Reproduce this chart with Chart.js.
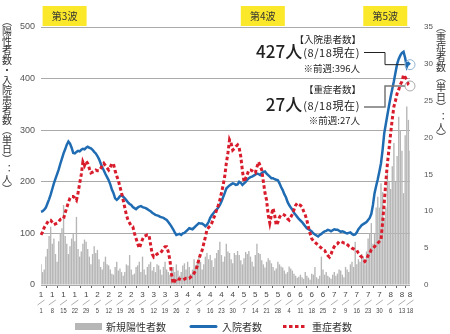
<!DOCTYPE html>
<html>
<head>
<meta charset="utf-8">
<script src="https://cdn.jsdelivr.net/npm/chart.js@4.4.0/dist/chart.umd.min.js"></script>
<style>
  html, body { margin: 0; padding: 0; background: #fff; }
</style>
</head>
<body>
<canvas id="chart" width="450" height="334"></canvas>
<script>
// daily new positive cases, 2021/1/1 - 8/18
const newCases = [
    40, 25, 30, 55, 70, 95, 113,   80, 90, 60, 45, 85, 100, 110,
    155, 95, 80, 60, 75, 90, 100,  85, 132, 70, 55, 65, 80, 88,
    84, 70, 55, 40, 60, 75, 62,    68, 50, 35, 30, 45, 55, 40,
    38, 30, 22, 20, 35, 45, 28,    32, 25, 18, 25, 40, 38, 58,
    30, 20, 22, 35, 38, 45, 25,    55, 30, 20, 35, 40, 45, 28,
    35, 25, 40, 38, 30, 20, 35,    45, 30, 25, 20, 30, 35, 25,
    40, 28, 18, 25, 38, 42, 30,    45, 35, 22, 30, 50, 38, 45,
    55, 45, 30, 40, 55, 62, 50,    58, 48, 35, 52, 62, 68, 84,
    58, 45, 55, 80, 65, 62, 50,    42, 62, 58, 66, 58, 48, 40,
    52, 64, 60, 66, 55, 45, 36,    58, 80, 62, 60, 48, 40, 34,
    45, 52, 48, 42, 35, 28, 32,    45, 40, 36, 34, 28, 22, 25,
    36, 32, 28, 22, 18, 14, 16,    20, 15, 12, 25, 18, 14, 10,
    22, 20, 35, 15, 12, 18, 55,    30, 20, 25, 18, 15, 12, 20,
    25, 18, 22, 30, 28, 20, 15,    35, 30, 25, 40, 45, 35, 84,
    40, 50, 45, 60, 55, 40, 65,    90, 100, 120, 80, 100, 150, 171,
    150, 197, 180, 130, 150, 216, 200,  186, 230, 275, 200, 250, 326, 300,
    260, 178, 290, 346, 320, 260
];

// 入院者数 (left axis)
const inpatients = [
    142, 143, 146, 150, 158, 166, 175, 186, 197, 206,
    215, 224, 235, 245, 255, 263, 272, 278, 274, 266,
    256, 255, 258, 260, 259, 262, 264, 263, 266, 268,
    266, 265, 262, 258, 255, 250, 244, 236, 228, 222,
    215, 209, 203, 195, 185, 178, 168, 165, 168, 172,
    174, 171, 168, 164, 160, 157, 155, 151, 149, 147,
    150, 152, 153, 151, 150, 149, 147, 145, 143, 140,
    138, 136, 135, 134, 132, 131, 130, 128, 126, 122,
    118, 113, 108, 102, 97, 98, 99, 97, 100, 101,
    104, 107, 110, 109, 108, 111, 114, 117, 120, 119,
    119, 117, 114, 117, 122, 130, 135, 139, 143, 146,
    150, 155, 162, 170, 178, 187, 190, 193, 195, 197,
    196, 194, 195, 200, 198, 194, 197, 200, 204, 207,
    209, 210, 212, 214, 216, 215, 213, 217, 219, 220,
    216, 213, 210, 207, 207, 205, 204, 203, 197, 190,
    184, 176, 170, 161, 155, 150, 146, 140, 136, 132,
    128, 125, 122, 118, 114, 110, 108, 106, 104, 100,
    98, 96, 94, 97, 99, 102, 104, 105, 107, 106,
    104, 106, 108, 107, 107, 105, 103, 104, 103, 101,
    100, 101, 102, 99, 97, 98, 102, 108, 112, 116,
    118, 120, 122, 126, 130, 138, 155, 178, 192, 205,
    220, 236, 262, 294, 312, 330, 348, 365, 380, 395,
    412, 428, 438, 445, 450, 452, 440, 423, 430, 427
];

// 重症者数 (right axis)
const severe = [
    6.8, 7.2, 7.8, 8.1, 8.5, 8.8, 8.8, 8.5, 8.2, 8.3,
    8.4, 8.6, 8.9, 9.0, 9.0, 9.8, 10.5, 11.2, 11.8, 12.0,
    12.0, 11.8, 11.5, 12.5, 13.8, 15.0, 16.7, 16.2, 16.8, 16.5,
    15.8, 15.2, 15.3, 15.4, 15.6, 15.5, 15.5, 15.8, 16.2, 16.5,
    16.2, 15.9, 15.6, 16.0, 16.5, 16.4, 15.5, 14.8, 14.2, 13.3,
    12.5, 11.5, 10.5, 9.5, 8.8, 8.4, 8.0, 7.9, 7.0, 6.3,
    5.6, 5.0, 5.6, 6.2, 6.6, 6.7, 6.8, 6.8, 5.5, 4.2,
    3.8, 4.0, 4.2, 4.3, 4.3, 4.6, 5.0, 5.2, 5.2, 4.5,
    3.4, 1.5, 0.2, 0.5, 0.9, 0.8, 0.8, 0.7, 0.7, 0.8,
    0.9, 0.9, 0.9, 1.1, 1.3, 1.6, 2.0, 2.6, 3.5, 4.2,
    4.7, 5.6, 6.5, 7.5, 7.8, 8.0, 8.4, 9.0, 9.5, 10.2,
    10.8, 11.5, 12.5, 13.5, 14.7, 16.5, 17.9, 19.7, 19.2, 18.3,
    18.5, 18.8, 19.0, 18.6, 17.4, 15.5, 14.0, 14.5, 15.0, 15.6,
    15.6, 15.5, 15.3, 15.2, 16.0, 16.7, 16.2, 15.6, 14.0, 12.5,
    11.5, 9.5, 8.4, 9.5, 10.4, 9.5, 8.1, 8.5, 9.2, 9.5,
    9.6, 9.5, 9.3, 9.0, 8.8, 9.2, 9.6, 10.2, 10.8, 11.1,
    10.9, 10.8, 10.6, 10.0, 9.5, 8.8, 7.8, 7.0, 6.3, 6.0,
    5.8, 5.6, 5.4, 5.2, 5.0, 4.8, 4.7, 4.3, 4.0, 3.8,
    4.2, 4.8, 5.2, 5.5, 5.6, 5.9, 5.9, 5.8, 5.7, 5.7,
    5.5, 5.3, 5.2, 5.0, 4.9, 4.8, 4.7, 4.3, 4.0, 3.8,
    3.5, 3.2, 3.5, 4.0, 4.3, 4.8, 5.0, 5.2, 5.5, 5.7,
    5.9, 6.1, 8.5, 11.1, 14.0, 16.5, 18.5, 20.6, 22.5, 24.2,
    25.0, 26.0, 26.5, 27.2, 27.6, 28.5, 28.2, 27.8, 27.2, 27.0
];

const weekTicks = [
    "1/1", "1/8", "1/15", "1/22", "1/29", "2/5", "2/12", "2/19", "2/26",
    "3/5", "3/12", "3/19", "3/26", "4/2", "4/9", "4/16", "4/23", "4/30",
    "5/7", "5/14", "5/21", "5/28", "6/4", "6/11", "6/18", "6/25",
    "7/2", "7/9", "7/16", "7/23", "7/30", "8/6", "8/13", "8/18"
];

const waveLabels = ["第3波", "第4波", "第5波"];
const legendLabels = ["新規陽性者数", "入院者数", "重症者数"];

// one category per day
const days = [];
for (let d = new Date(2021, 0, 1); days.length < newCases.length; d.setDate(d.getDate() + 1)) {
    days.push((d.getMonth() + 1) + "/" + d.getDate());
}

const BLUE = "#1f6cb3";
const RED = "#d81c2c";
const GREY = "#b6b6b6";
const JP = "'Noto Sans CJK JP', sans-serif";
const NUM = "'Liberation Sans', Arial, sans-serif";

function verticalText(ctx, str, cx, cy, step) {
    for (const ch of str) {
        ctx.fillText(ch, cx, cy);
        cy += step;
    }
}

const overlay = {
    id: "overlay",
    afterDraw(chart) {
        const ctx = chart.ctx;
        const { x, y, y2 } = chart.scales;
        ctx.save();

        // slash + day under each month label (condensed like the print)
        ctx.strokeStyle = "#999";
        ctx.lineWidth = 0.8;
        ctx.fillStyle = "#444";
        ctx.font = "8px " + NUM;
        ctx.textAlign = "center";
        ctx.textBaseline = "middle";
        days.forEach((c, i) => {
            if (!weekTicks.includes(c)) return;
            const px = x.getPixelForValue(i);
            ctx.beginPath();
            ctx.moveTo(px - 3.5, 305);
            ctx.lineTo(px + 3.5, 300);
            ctx.stroke();
            ctx.save();
            ctx.translate(px, 310.5);
            ctx.scale(0.72, 1);
            ctx.fillText(c.split("/")[1], 0, 0);
            ctx.restore();
        });

        // wave labels
        ctx.font = "10px " + JP;
        [1, 124, 200].forEach((idx, k) => {
            const left = x.getPixelForValue(idx);
            ctx.fillStyle = "#fce82a";
            ctx.fillRect(left, 6, 44, 20);
            ctx.fillStyle = "#333";
            ctx.fillText(waveLabels[k], left + 22, 16.5);
        });

        // axis titles, written vertically
        ctx.fillStyle = "#333";
        ctx.font = "10px " + JP;
        verticalText(ctx, "︵陽性者数・入院患者数︵単日︶︓人︶", 7, 21, 9.9);
        verticalText(ctx, "︵重症者数︵単日︶︓人︶", 441, 27, 10);

        // legend
        ctx.textAlign = "left";
        ctx.fillStyle = GREY;
        ctx.fillRect(75, 323, 27, 7);
        ctx.fillStyle = "#333";
        ctx.fillText(legendLabels[0], 106, 327);
        ctx.strokeStyle = BLUE;
        ctx.lineWidth = 3;
        ctx.lineCap = "round";
        ctx.beginPath();
        ctx.moveTo(191, 326.5);
        ctx.lineTo(216, 326.5);
        ctx.stroke();
        ctx.fillText(legendLabels[1], 222, 327);
        ctx.strokeStyle = RED;
        ctx.lineCap = "butt";
        ctx.setLineDash([3.5, 2.5]);
        ctx.beginPath();
        ctx.moveTo(283, 326.5);
        ctx.lineTo(306, 326.5);
        ctx.stroke();
        ctx.setLineDash([]);
        ctx.fillText(legendLabels[2], 312, 327);

        // callouts
        const last = days.length - 1;
        const ex = x.getPixelForValue(last);
        const eyBlue = y.getPixelForValue(inpatients[last]);
        const eyRed = y2.getPixelForValue(severe[last]);

        ctx.fillStyle = "#222";
        ctx.textAlign = "right";
        ctx.font = "9.5px " + JP;
        ctx.fillText("【入院患者数】", 361, 39);
        ctx.fillText("※前週:396人", 360, 68);
        ctx.fillText("【重症者数】", 361, 89);
        ctx.fillText("※前週:27人", 360, 120);
        ctx.font = "11px " + JP;
        ctx.letterSpacing = "0.6px";
        const nowW = ctx.measureText("(8/18現在)").width;
        ctx.fillText("(8/18現在)", 360, 52.5);
        ctx.fillText("(8/18現在)", 360, 105.5);
        ctx.letterSpacing = "0px";
        ctx.font = "500 17px " + JP;
        ctx.fillText("427人", 359 - nowW, 51.5);
        ctx.fillText("27人", 359 - nowW, 104.5);

        ctx.strokeStyle = "#222";
        ctx.lineWidth = 1;
        ctx.beginPath();
        ctx.moveTo(364, 52.5);
        ctx.lineTo(385, 52.5);
        ctx.lineTo(385, eyBlue);
        ctx.lineTo(ex - 5, eyBlue);
        ctx.stroke();
        ctx.strokeStyle = "#777";
        ctx.lineWidth = 1.5;
        ctx.beginPath();
        ctx.moveTo(364, 107);
        ctx.lineTo(385, 107);
        ctx.lineTo(385, eyRed);
        ctx.lineTo(ex - 5, eyRed);
        ctx.stroke();

        ctx.lineWidth = 1;
        ctx.strokeStyle = "#8fb3d3";
        ctx.beginPath();
        ctx.arc(ex, eyBlue, 5, 0, Math.PI * 2);
        ctx.stroke();
        ctx.strokeStyle = "#aaa";
        ctx.beginPath();
        ctx.arc(ex, eyRed, 5, 0, Math.PI * 2);
        ctx.stroke();

        ctx.restore();
    }
};

new Chart(document.getElementById("chart"), {
    type: "bar",
    data: {
        labels: days,
        datasets: [
            {
                type: "line", label: legendLabels[2], data: severe, yAxisID: "y2",
                borderColor: RED, borderWidth: 3, borderDash: [3.5, 2.5],
                pointRadius: 0, tension: 0, order: 1
            },
            {
                type: "line", label: legendLabels[1], data: inpatients, yAxisID: "y",
                borderColor: BLUE, borderWidth: 2.5, pointRadius: 0, tension: 0, order: 2
            },
            {
                type: "bar", label: legendLabels[0], data: newCases, yAxisID: "y",
                backgroundColor: GREY, barPercentage: 1, categoryPercentage: 0.85, order: 3
            }
        ]
    },
    options: {
        responsive: false,
        animation: false,
        layout: { padding: { top: 27, left: 0, right: 0, bottom: 0 } },
        plugins: { legend: { display: false }, tooltip: { enabled: false } },
        scales: {
            x: {
                offset: false,
                grid: { drawOnChartArea: false, tickLength: 3, color: "#666" },
                border: { display: false },
                ticks: {
                    autoSkip: false, maxRotation: 0, minRotation: 0, padding: 2.5,
                    color: "#444",
                    font: { family: NUM, size: 8, lineHeight: 1 },
                    // month here; slash and day are drawn by the overlay
                    callback: function(v, i) {
                        const c = days[i];
                        if (!weekTicks.includes(c)) return null;
                        return c.split("/")[0];
                    }
                },
                afterFit: function(s) { s.height = 49; }
            },
            y: {
                min: 0, max: 500,
                grid: { color: "#aaa", drawTicks: false },
                border: { display: false },
                ticks: { stepSize: 100, padding: 6, color: "#555", font: { family: NUM, size: 9 } },
                afterFit: function(s) { s.width = 41; }
            },
            y2: {
                position: "right", min: 0, max: 35,
                grid: { display: false },
                border: { display: false },
                ticks: { stepSize: 5, padding: 6, color: "#555", font: { family: NUM, size: 8 } },
                afterFit: function(s) { s.width = 40; }
            }
        }
    },
    plugins: [overlay]
});
</script>
</body>
</html>
